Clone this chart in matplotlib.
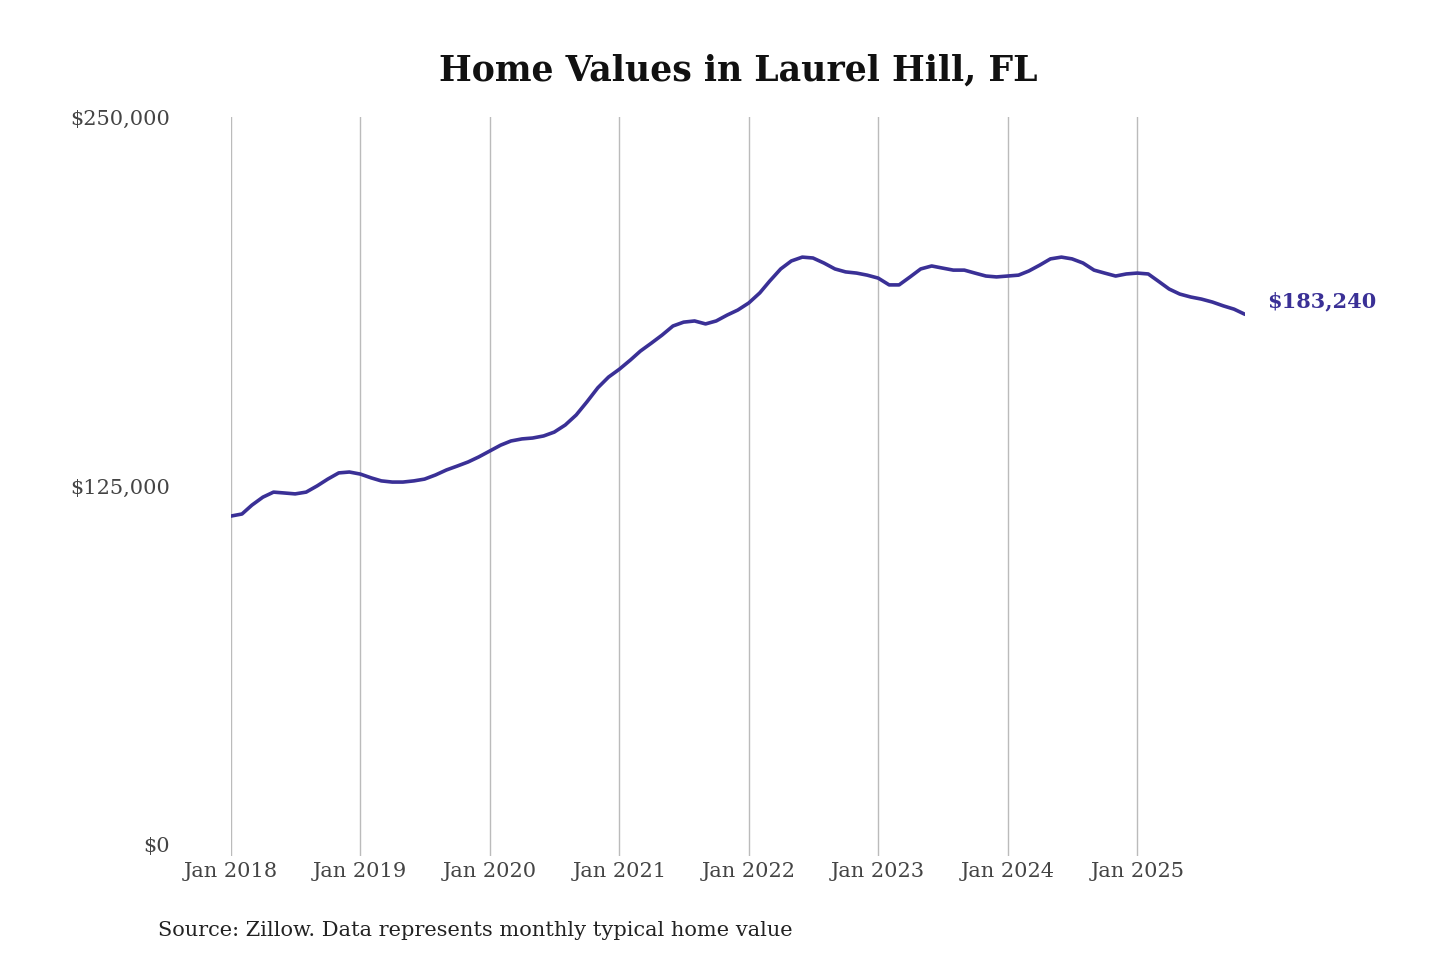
import numpy as np
import pandas as pd
import matplotlib
matplotlib.use("Agg")
import matplotlib.pyplot as plt

# monthly typical home value, Jan 2018 - Nov 2025 (thousands of $)
values_k = [
    115.0, 115.7, 118.7, 121.4, 123.1, 122.8, 122.5, 123.1, 125.2, 127.5, 129.6, 129.9,
    129.2, 127.9, 126.9, 126.5, 126.5, 126.9, 127.5, 128.9, 130.6, 131.9, 133.3, 135.0,
    137.0, 139.0, 140.4, 141.1, 141.4, 142.1, 143.4, 145.8, 149.2, 153.6, 158.4, 162.0,
    164.7, 167.8, 170.8, 173.5, 176.2, 179.3, 180.6, 181.0, 180.0, 181.0, 183.0, 184.7,
    187.1, 190.5, 194.5, 198.6, 201.3, 202.6, 202.3, 200.6, 198.6, 197.6, 197.2, 196.5,
    195.5, 193.2, 193.2, 195.9, 198.6, 199.6, 198.9, 198.2, 198.2, 197.2, 196.2, 195.9,
    196.2, 196.5, 197.9, 199.9, 202.0, 202.6, 202.0, 200.6, 198.2, 197.2, 196.2, 196.9,
    197.2, 196.9, 194.5, 191.8, 190.1, 189.1, 188.4, 187.4, 186.1, 185.0, 183.24,
]
values = np.array(values_k) * 1000
dates = pd.date_range("2018-01-01", periods=len(values), freq="MS")
years = list(range(2018, 2026))
yticks = [0, 125000, 250000]
ytick_labels = ["$0", "$125,000", "$250,000"]
line_color = "#3a3096"

plt.rcParams["font.family"] = ["DejaVu Serif"]
fig = plt.figure(figsize=(14.4, 9.6), dpi=100)
ax = fig.add_axes([231/1440, 1 - 856/960, (1245-231)/1440, (856-117)/960])

ax.plot(dates, values, color=line_color, lw=2.6, solid_capstyle="round",
        solid_joinstyle="round")
ax.set_xlim(dates[0], dates[-1])
ax.set_ylim(0, 250000)

tick_dates = [pd.Timestamp(f"{y}-01-01") for y in years]
ax.set_xticks(tick_dates)
ax.set_xticklabels([f"Jan {y}" for y in years], fontsize=15, color="#444444")
ax.set_yticks(yticks)
ax.set_yticklabels(ytick_labels, fontsize=15, color="#444444")
ax.tick_params(axis="both", length=0)
ax.tick_params(axis="x", pad=4)
ax.tick_params(axis="y", pad=44)
ax.get_yticklabels()[0].set_verticalalignment("bottom")
ax.grid(axis="x", color="#bbbbbb", lw=1)
for s in ax.spines.values():
    s.set_visible(False)

ax.annotate(f"${values[-1]:,.0f}", (dates[-1], values[-1]), xytext=(16, 2),
            textcoords="offset points", color=line_color, fontsize=15,
            fontweight="bold", va="bottom")

fig.text(0.513, 0.927, "Home Values in Laurel Hill, FL", ha="center", va="center",
         fontsize=25, fontweight="bold", color="#111111")
fig.text(158/1440, 1 - 931/960, "Source: Zillow. Data represents monthly typical home value",
         fontsize=15, color="#222222", va="center")

fig.savefig("out.png", dpi=100)
